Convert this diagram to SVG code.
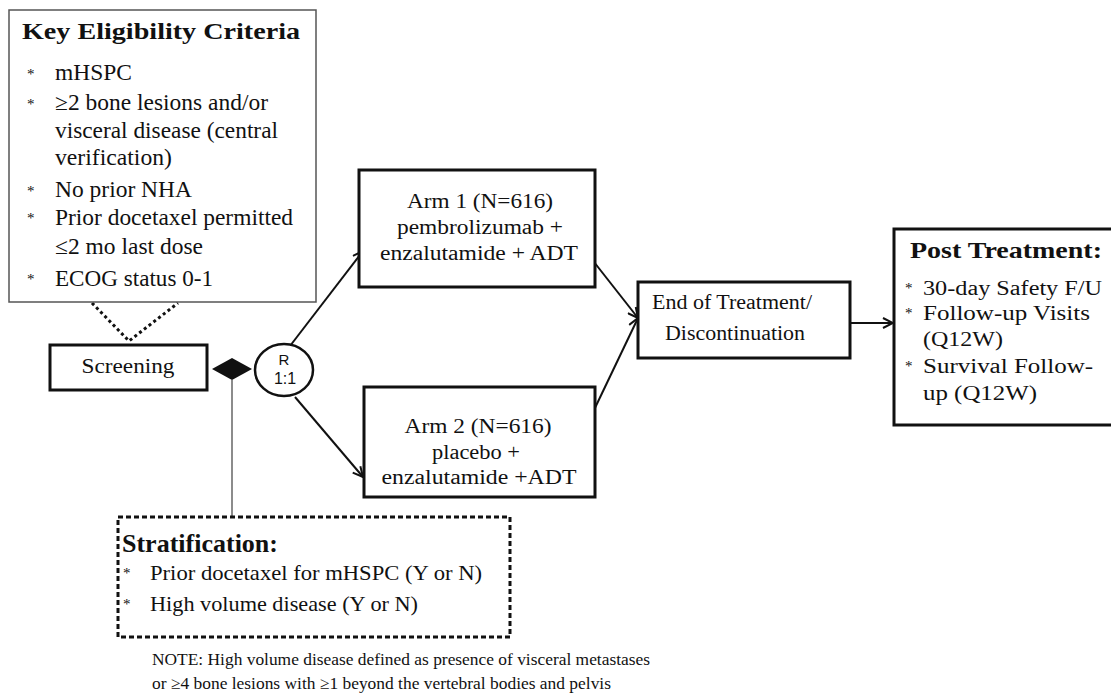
<svg xmlns="http://www.w3.org/2000/svg" width="1111" height="700" viewBox="0 0 1111 700">
<defs>
<style>
.t{font-family:"Liberation Serif","Times New Roman",serif;fill:#111;}
.b{font-weight:bold;}
.box{fill:#fff;stroke:#111;stroke-width:3;}
.conn{stroke:#111;stroke-width:2;fill:none;}
.sans{font-family:"Liberation Sans",Arial,sans-serif;fill:#111;}
.ast{font-size:15px;}
</style>
<marker id="arr" viewBox="0 0 12 12" refX="11" refY="6" markerWidth="12" markerHeight="12" markerUnits="userSpaceOnUse" orient="auto">
<path d="M1,1 L11,6 L1,11" fill="none" stroke="#111" stroke-width="2"/>
</marker>
</defs>
<rect width="1111" height="700" fill="#fff"/>

<g id="connectors">
<path d="M92,303 L129,341 L178,303" fill="none" stroke="#111" stroke-width="3" stroke-dasharray="3,3"/>
<line x1="232" y1="380" x2="232" y2="517" stroke="#666" stroke-width="1.5"/>
<line class="conn" x1="290" y1="346" x2="363" y2="251" marker-end="url(#arr)"/>
<line class="conn" x1="295" y1="397" x2="363" y2="477" marker-end="url(#arr)"/>
<line class="conn" x1="594" y1="262" x2="638" y2="318" marker-end="url(#arr)"/>
<line class="conn" x1="594" y1="410" x2="638" y2="318" marker-end="url(#arr)"/>
<line class="conn" x1="850" y1="323" x2="893" y2="323" marker-end="url(#arr)"/>
</g>

<g id="eligibility">
<rect x="9" y="10" width="307" height="292" fill="#fff" stroke="#555" stroke-width="1.5"/>
<text class="t b" x="22" y="39" font-size="24" textLength="278" lengthAdjust="spacingAndGlyphs">Key Eligibility Criteria</text>
<g class="t" font-size="22.5">
<text class="ast" x="27" y="79">*</text><text x="55" y="80" textLength="77" lengthAdjust="spacingAndGlyphs">mHSPC</text>
<text class="ast" x="27" y="109">*</text><text x="55" y="110" textLength="213" lengthAdjust="spacingAndGlyphs">≥2 bone lesions and/or</text>
<text x="55" y="138" textLength="223" lengthAdjust="spacingAndGlyphs">visceral disease (central</text>
<text x="55" y="165" textLength="117" lengthAdjust="spacingAndGlyphs">verification)</text>
<text class="ast" x="27" y="196">*</text><text x="55" y="197" textLength="137" lengthAdjust="spacingAndGlyphs">No prior NHA</text>
<text class="ast" x="27" y="223">*</text><text x="55" y="225" textLength="238" lengthAdjust="spacingAndGlyphs">Prior docetaxel permitted</text>
<text x="55" y="254" textLength="148" lengthAdjust="spacingAndGlyphs">≤2 mo last dose</text>
<text class="ast" x="27" y="284">*</text><text x="55" y="286" textLength="158" lengthAdjust="spacingAndGlyphs">ECOG status 0-1</text>
</g>
</g>

<g id="screening">
<rect class="box" x="50" y="345" width="157" height="45"/>
<text class="t" x="128" y="373" font-size="21" text-anchor="middle" textLength="93" lengthAdjust="spacingAndGlyphs">Screening</text>
</g>

<g id="diamond">
<polygon points="212,369 232,358 252,369 232,380" fill="#111"/>
</g>

<g id="randomize">
<ellipse cx="284" cy="370" rx="29" ry="26" fill="#fff" stroke="#111" stroke-width="2.5"/>
<text class="sans" x="284" y="365" font-size="15" text-anchor="middle">R</text>
<text class="sans" x="285" y="384" font-size="16" text-anchor="middle">1:1</text>
</g>

<g id="arm1">
<rect class="box" x="359" y="170" width="236" height="117"/>
<g class="t" font-size="20" text-anchor="middle">
<text x="480" y="208" textLength="146" lengthAdjust="spacingAndGlyphs">Arm 1 (N=616)</text>
<text x="480" y="234" textLength="166" lengthAdjust="spacingAndGlyphs">pembrolizumab +</text>
<text x="479" y="260" textLength="198" lengthAdjust="spacingAndGlyphs">enzalutamide + ADT</text>
</g>
</g>

<g id="arm2">
<rect class="box" x="364" y="387" width="231" height="110"/>
<g class="t" font-size="20" text-anchor="middle">
<text x="478" y="433" textLength="147" lengthAdjust="spacingAndGlyphs">Arm 2 (N=616)</text>
<text x="476" y="459" textLength="88" lengthAdjust="spacingAndGlyphs">placebo +</text>
<text x="479" y="484" textLength="195" lengthAdjust="spacingAndGlyphs">enzalutamide +ADT</text>
</g>
</g>

<g id="end">
<rect class="box" x="638" y="282" width="212" height="76"/>
<g class="t" font-size="20" text-anchor="middle">
<text x="732" y="309" textLength="160" lengthAdjust="spacingAndGlyphs">End of Treatment/</text>
<text x="735" y="340" textLength="140" lengthAdjust="spacingAndGlyphs">Discontinuation</text>
</g>
</g>

<g id="post">
<rect class="box" x="894" y="229" width="222" height="196"/>
<text class="t b" x="910" y="258" font-size="24" textLength="192" lengthAdjust="spacingAndGlyphs">Post Treatment:</text>
<g class="t" font-size="20">
<text class="ast" x="905" y="293">*</text><text x="923" y="295" textLength="179" lengthAdjust="spacingAndGlyphs">30-day Safety F/U</text>
<text class="ast" x="905" y="318">*</text><text x="923" y="320" textLength="167" lengthAdjust="spacingAndGlyphs">Follow-up Visits</text>
<text x="923" y="346" textLength="80" lengthAdjust="spacingAndGlyphs">(Q12W)</text>
<text class="ast" x="905" y="371">*</text><text x="923" y="373" textLength="170" lengthAdjust="spacingAndGlyphs">Survival Follow-</text>
<text x="923" y="400" textLength="114" lengthAdjust="spacingAndGlyphs">up (Q12W)</text>
</g>
</g>

<g id="stratification">
<rect x="118" y="517" width="392" height="120" fill="#fff" stroke="#111" stroke-width="3" stroke-dasharray="5,3"/>
<text class="t b" x="122" y="552" font-size="25" textLength="156" lengthAdjust="spacingAndGlyphs">Stratification:</text>
<g class="t" font-size="21">
<text class="ast" x="123" y="578">*</text><text x="150" y="580" textLength="332" lengthAdjust="spacingAndGlyphs">Prior docetaxel for mHSPC (Y or N)</text>
<text class="ast" x="123" y="609">*</text><text x="150" y="611" textLength="268" lengthAdjust="spacingAndGlyphs">High volume disease (Y or N)</text>
</g>
</g>

<g id="note" class="t" font-size="17">
<text x="152" y="665" textLength="498" lengthAdjust="spacingAndGlyphs">NOTE: High volume disease defined as presence of visceral metastases</text>
<text x="152" y="689" textLength="459" lengthAdjust="spacingAndGlyphs">or ≥4 bone lesions with ≥1 beyond the vertebral bodies and pelvis</text>
</g>
</svg>
